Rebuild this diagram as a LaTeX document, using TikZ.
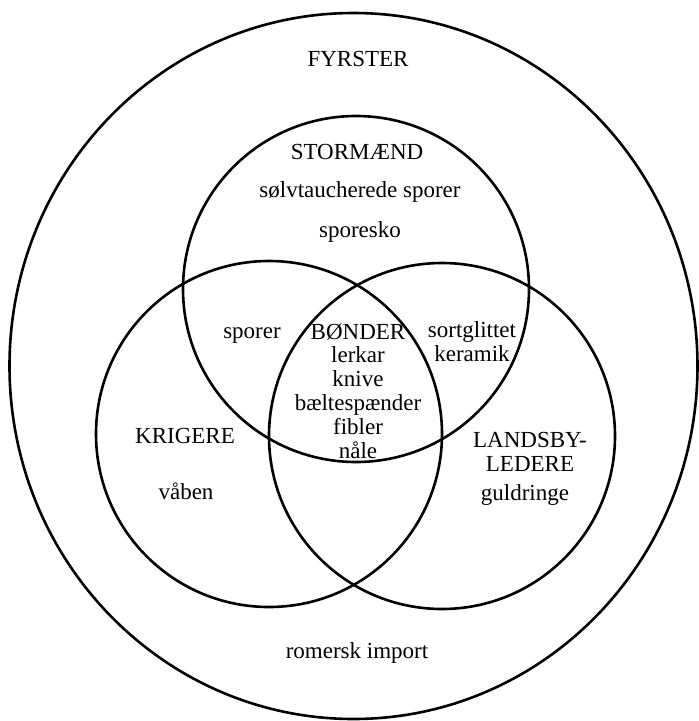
\documentclass[tikz,border=0pt]{standalone}
\usepackage{fontspec}
\setmainfont{Liberation Serif}
\usetikzlibrary{positioning}

\begin{document}
\begin{tikzpicture}[x=1pt, y=-1pt,
        every node/.style={font=\fontsize{23}{23.8}\selectfont, inner sep=0pt, align=center, anchor=base},
        ring/.style={line width=2.6pt}]
        \useasboundingbox (0,0) rectangle (699,721);

        % the four sets
        \draw[ring] (353.5,366) ellipse [x radius=344, y radius=353];
        \draw[ring] (356,289) circle (173);
        \draw[ring] (269,434) circle (173);
        \draw[ring] (442,436) circle (173);

        \node (fyrster) at (358,66) {FYRSTER};
        \node (stormaend) at (357,159) {STORMÆND};
        \node (solv) at (360,197) {sølvtaucherede sporer};
        \node (sporesko) at (360,237) {sporesko};
        \node (sporer) at (252,338) {sporer};
        \node (bonder) at (358,458) {BØNDER\\lerkar\\knive\\bæltespænder\\fibler\\nåle};
        \node (keramik) at (472,361) {sortglittet\\keramik};
        \node (krigere) at (185,443) {KRIGERE};
        \node (vaaben) at (186,499) {våben};
        \node (landsby) at (530,471) {LANDSBY-\\LEDERE};
        \node (guld) at (525,500) {guldringe};
        \node (romersk) at (357,658) {romersk import};
      \end{tikzpicture}
\end{document}
